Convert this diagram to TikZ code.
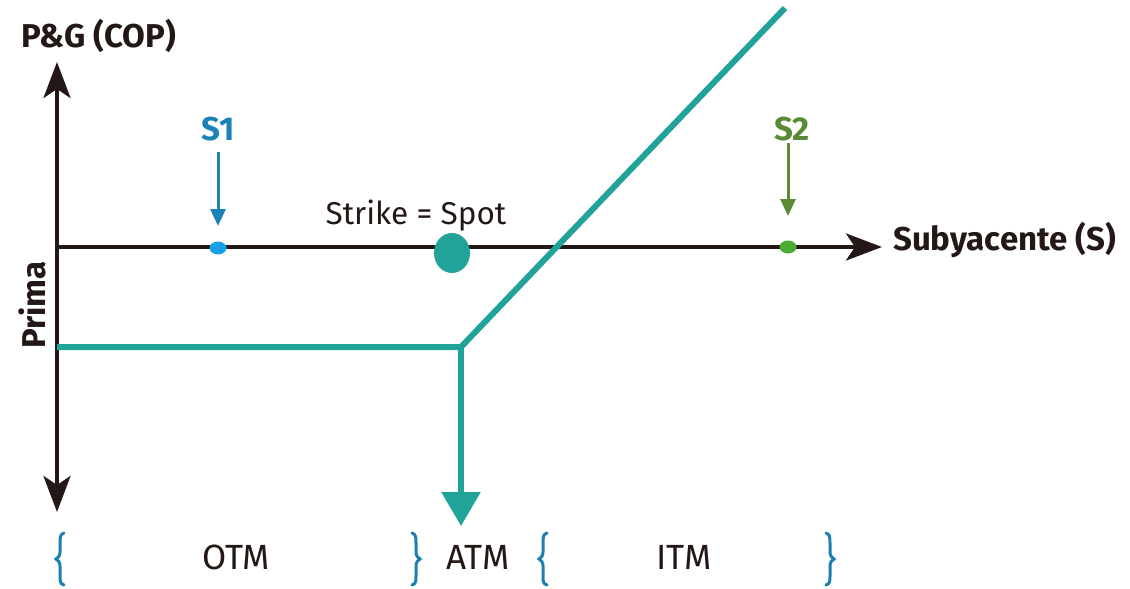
\documentclass[tikz,border=0pt]{standalone}
\usepackage{fontspec}
\setmainfont{Fira Sans}
\usetikzlibrary{arrows.meta,shapes.geometric}
\definecolor{axisblack}{HTML}{231815}
\definecolor{tealc}{HTML}{21A39A}
\definecolor{blueL}{HTML}{1A82B8}
\definecolor{blueD}{HTML}{1AA0E6}
\definecolor{greenL}{HTML}{5A8A35}
\definecolor{greenD}{HTML}{4AAE35}
\definecolor{braceblue}{HTML}{1B7FB0}
\tikzset{
  axis/.style={draw=axisblack, line width=4pt, -{Stealth[length=36pt,width=27pt,inset=9pt]}},
  payoff/.style={draw=tealc, line width=6pt},
  boldlab/.style={font=\fontsize{33}{35}\selectfont\bfseries, text=axisblack, inner sep=0pt},
  sboldlab/.style={font=\fontsize{33}{35}\selectfont\bfseries, inner sep=0pt},
  reglab/.style={font=\fontsize{31.5}{33}\selectfont, text=axisblack, inner sep=0pt},
  zonelab/.style={font=\fontsize{35}{37}\selectfont, text=axisblack, inner sep=0pt},
  bracestyle/.style={draw=braceblue, line width=3pt, line cap=round},
  marker/.style={line width=3pt, -{Triangle[length=17pt,width=15pt]}},
}
\begin{document}
\begin{tikzpicture}[x=1pt,y=-1pt]
\useasboundingbox (0,0) rectangle (1130,589);
% axes
\coordinate (o) at (57,247);
\coordinate (ytop) at (57,62);
\coordinate (ybot) at (57,512);
\coordinate (xend) at (882,247);
\draw[axis] (o) -- (ytop);
\draw[axis] (o) -- (ybot);
\draw[axis] (o) -- (xend);
\node[boldlab, anchor=west] (pg) at (21,36) {P\&G (COP)};
\node[boldlab, anchor=west] (sub) at (893,240) {Subyacente (S)};
\node[boldlab, rotate=90] (prima) at (32,305) {Prima};
% payoff
\coordinate (p0) at (57,347);
\coordinate (k) at (461,347);
\coordinate (ptop) at (785,8);
\coordinate (atmtip) at (461,526);
\draw[payoff, line join=miter] (p0) -- (k) -- (ptop);
\draw[payoff, -{Triangle[length=34pt,width=38pt]}] (k) -- (atmtip);
% strike dot
\node[fill=tealc, ellipse, minimum width=36pt, minimum height=40pt, inner sep=0pt] (strike) at (452,253) {};
\node[reglab] (strikelab) at (416,216) {Strike = Spot};
% S1
\node[sboldlab, text=blueL] (s1) at (218,129) {S1};
\node[fill=blueD, ellipse, minimum width=17pt, minimum height=13pt, inner sep=0pt] (s1dot) at (218,248) {};
\coordinate (s1a) at (218,152);
\coordinate (s1b) at (218,226);
\draw[marker, draw=blueL, fill=blueL] (s1a) -- (s1b);
% S2
\node[sboldlab, text=greenL] (s2) at (792,129) {S2};
\node[fill=greenD, ellipse, minimum width=17pt, minimum height=13pt, inner sep=0pt] (s2dot) at (788,247) {};
\coordinate (s2a) at (788,143);
\coordinate (s2b) at (788,216);
\draw[marker, draw=greenL, fill=greenL] (s2a) -- (s2b);
% braces
\draw[bracestyle] (64,533) .. controls (60,534) and (60,538) .. (60,543) -- (60,552) .. controls (60,556) and (58,558) .. (56,559) .. controls (58,560) and (60,562) .. (60,566) -- (60,576) .. controls (60,581) and (60,584) .. (64,585);
\draw[bracestyle] (412,533) .. controls (416,534) and (416,538) .. (416,543) -- (416,552) .. controls (416,556) and (418,558) .. (420,559) .. controls (418,560) and (416,562) .. (416,566) -- (416,576) .. controls (416,581) and (416,584) .. (412,585);
\draw[bracestyle] (547,533) .. controls (543,534) and (543,538) .. (543,543) -- (543,552) .. controls (543,556) and (541,558) .. (539,559) .. controls (541,560) and (543,562) .. (543,566) -- (543,576) .. controls (543,581) and (543,584) .. (547,585);
\draw[bracestyle] (826,533) .. controls (830,534) and (830,538) .. (830,543) -- (830,552) .. controls (830,556) and (832,558) .. (834,559) .. controls (832,560) and (830,562) .. (830,566) -- (830,576) .. controls (830,581) and (830,584) .. (826,585);
\node[zonelab] (otm) at (236,557) {OTM};
\node[zonelab] (atm) at (478,557) {ATM};
\node[zonelab] (itm) at (684,557) {ITM};
\end{tikzpicture}
\end{document}
